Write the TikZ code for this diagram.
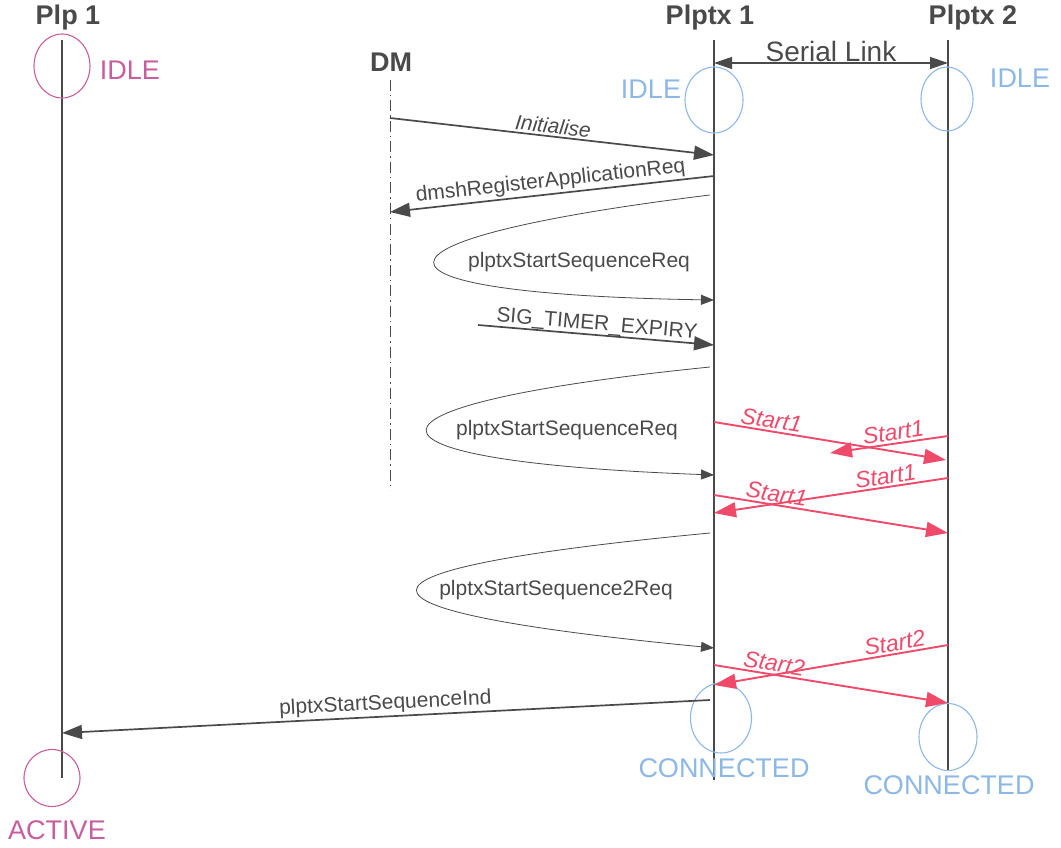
\documentclass[tikz,border=0pt]{standalone}
\usepackage{fontspec}
\setmainfont{Liberation Sans}
\usetikzlibrary{arrows.meta,shapes.geometric}
\definecolor{lifegray}{HTML}{4A4A4A}
\definecolor{plppink}{HTML}{C75E9E}
\definecolor{stateblue}{HTML}{8DB8E6}
\definecolor{startred}{HTML}{EF4A6A}
\begin{document}
\begin{tikzpicture}[x=1pt,y=-1pt,
  title/.style={font=\bfseries\fontsize{27}{30}\selectfont,text=lifegray},
  life/.style={draw=lifegray,line width=1.1pt},
  state/.style={ellipse,draw,line width=1.1pt,inner sep=0,minimum width=56pt,minimum height=64pt},
  statetxt/.style={font=\fontsize{27}{30}\selectfont,inner sep=0},
  msg/.style={draw=lifegray,line width=1.7pt,-{Triangle[length=20pt,width=14pt]}},
  loopmsg/.style={draw=lifegray,line width=0.8pt,-{Triangle[length=13pt,width=10pt]}},
  startmsg/.style={draw=startred,line width=1.9pt,-{Triangle[length=22pt,width=15pt]}},
  msgtxt/.style={font=\fontsize{21}{24}\selectfont,text=lifegray,inner sep=2pt},
  starttxt/.style={font=\itshape\fontsize{23}{26}\selectfont,text=startred,inner sep=2pt}]
\useasboundingbox(0,0)rectangle(1061,848);
\node[title](plp)at(68,18){Plp 1};
\node[title](dm)at(391,62){DM};
\node[title](pa)at(710,18){Plptx 1};
\node[title](pb)at(973,18){Plptx 2};
\coordinate(plpTop)at(62,40);\coordinate(plpEnd)at(62,778);
\coordinate(dmTop)at(390,80);\coordinate(dmEnd)at(390,490);
\coordinate(paTop)at(714,40);\coordinate(paEnd)at(714,780);
\coordinate(pbTop)at(948,40);\coordinate(pbEnd)at(948,770);
\draw[life](plpTop)--(plpEnd);
\draw[life,line width=0.9pt,dash pattern=on 11pt off 4pt on 1.5pt off 4pt](dmTop)--(dmEnd);
\draw[life](paTop)--(paEnd);
\draw[life](pbTop)--(pbEnd);
\node[state,draw=plppink](plpIdle)at(62,66){};
\node[statetxt,text=plppink](plpIdleTxt)at(130,70){IDLE};
\node[state,draw=plppink,minimum height=57pt](plpActive)at(52,778){};
\node[statetxt,text=plppink](plpActiveTxt)at(57,830){ACTIVE};
\node[state,draw=stateblue,minimum width=58pt,minimum height=66pt](paIdle)at(714,100){};
\node[statetxt,text=stateblue](paIdleTxt)at(651,89){IDLE};
\node[state,draw=stateblue,minimum width=52pt](pbIdle)at(947,99){};
\node[statetxt,text=stateblue](pbIdleTxt)at(1020,78){IDLE};
\node[state,draw=stateblue,minimum width=61pt,minimum height=70pt](paConn)at(721,718){};
\node[statetxt,text=stateblue](paConnTxt)at(724,768){CONNECTED};
\node[state,draw=stateblue,minimum width=58pt,minimum height=67pt](pbConn)at(948,737){};
\node[statetxt,text=stateblue](pbConnTxt)at(949,785){CONNECTED};
\coordinate(sl1)at(714,63);\coordinate(sl2)at(948,63);
\draw[life,line width=1.3pt,{Triangle[length=18pt,width=12pt]}-{Triangle[length=18pt,width=12pt]}](sl1)--(sl2)node[midway,anchor=base,yshift=1pt,font=\fontsize{28}{30}\selectfont,text=lifegray,inner sep=0]{Serial Link};
\coordinate(i1)at(390,118);\coordinate(i2)at(714,155);
\draw[msg](i1)--(i2)node[midway,above,sloped,msgtxt]{\itshape Initialise};
\coordinate(r1)at(714,176);\coordinate(r2)at(390,212);
\draw[msg](r1)--(r2)node[midway,above,sloped,msgtxt]{dmshRegisterApplicationReq};
\coordinate(l1a)at(710,195);\coordinate(l1b)at(714,300);
\draw[loopmsg](l1a)..controls(343,240)and(343,294)..(l1b);
\node[msgtxt](l1)at(579,262){plptxStartSequenceReq};
\coordinate(t1)at(478,325);\coordinate(t2)at(714,345);
\draw[msg](t1)--(t2)node[midway,above,sloped,msgtxt,inner sep=0pt]{SIG\_TIMER\_EXPIRY};
\coordinate(l2a)at(710,367);\coordinate(l2b)at(714,475);
\draw[loopmsg](l2a)..controls(333,405)and(333,461)..(l2b);
\node[msgtxt](l2)at(567,430){plptxStartSequenceReq};
\coordinate(s1a)at(714,422);\coordinate(s1b)at(946,460);
\draw[startmsg](s1a)--(s1b)node[pos=0.24,above,sloped,starttxt]{Start1};
\coordinate(s2a)at(948,436);\coordinate(s2b)at(830,453);
\draw[startmsg](s2a)--(s2b)node[pos=0.45,above,sloped,starttxt]{Start1};
\coordinate(s3a)at(948,478);\coordinate(s3b)at(714,513);
\draw[startmsg](s3a)--(s3b)node[pos=0.26,above,sloped,starttxt]{Start1};
\coordinate(s4a)at(714,495);\coordinate(s4b)at(948,533);
\draw[startmsg](s4a)--(s4b)node[pos=0.26,above,sloped,starttxt]{Start1};
\coordinate(l3a)at(710,533);\coordinate(l3b)at(714,648);
\draw[loopmsg](l3a)..controls(320,570)and(320,610)..(l3b);
\node[msgtxt](l3)at(556,590){plptxStartSequence2Req};
\coordinate(s5a)at(948,645);\coordinate(s5b)at(714,685);
\draw[startmsg](s5a)--(s5b)node[pos=0.22,above,sloped,starttxt]{Start2};
\coordinate(s6a)at(714,665);\coordinate(s6b)at(948,703);
\draw[startmsg](s6a)--(s6b)node[pos=0.25,above,sloped,starttxt]{Start2};
\coordinate(n1)at(710,700);\coordinate(n2)at(62,733);
\draw[msg](n1)--(n2)node[midway,above,sloped,msgtxt]{plptxStartSequenceInd};
\end{tikzpicture}
\end{document}
